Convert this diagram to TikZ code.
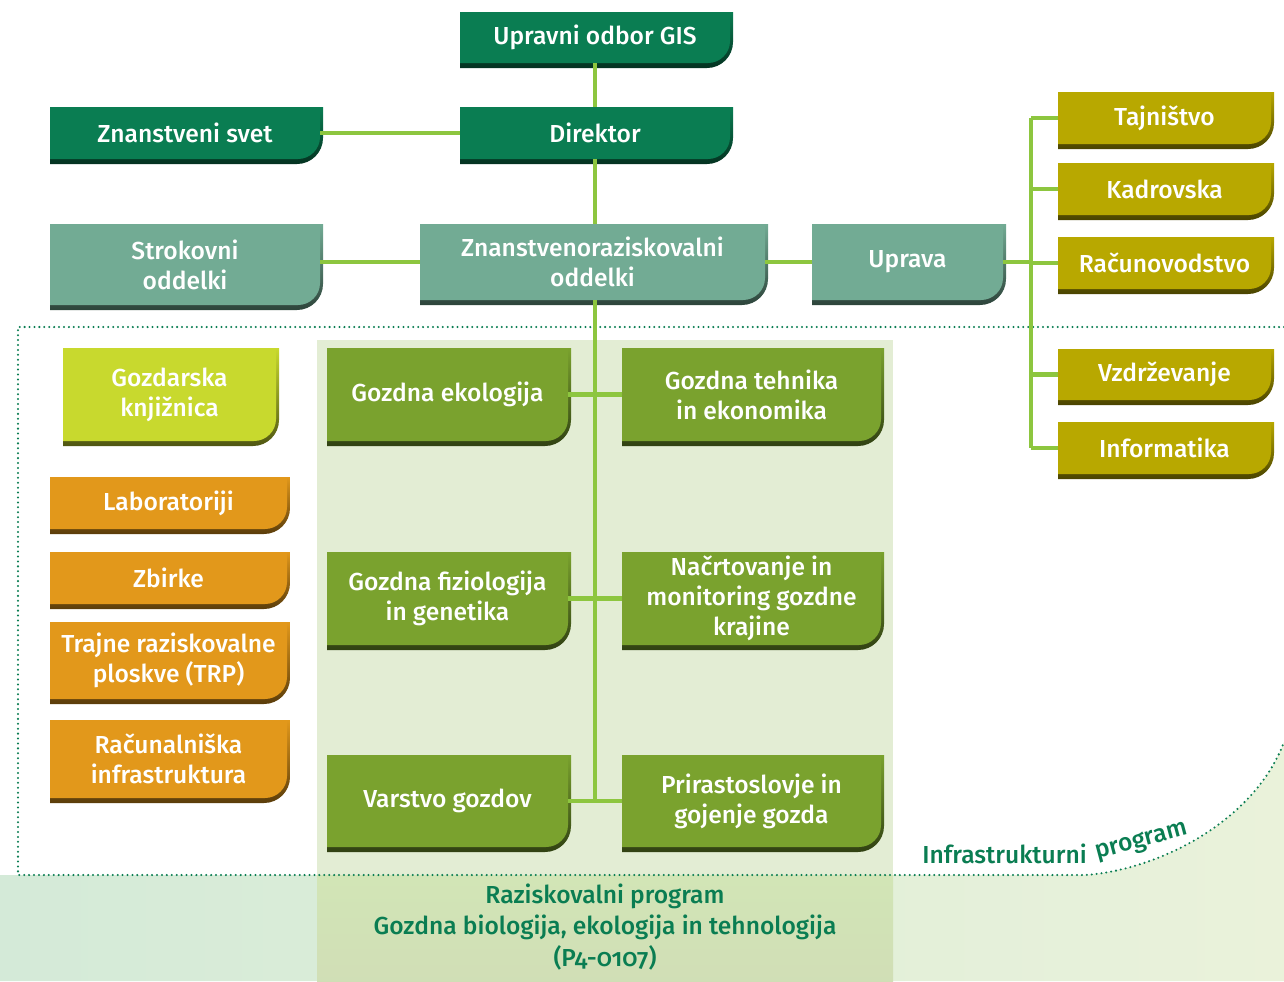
\documentclass[tikz,border=0pt]{standalone}
\usepackage{fontspec}
\setmainfont{Fira Sans}
\newfontfamily\boxfont{Fira Sans Medium}
\usetikzlibrary{positioning}

\definecolor{gisdark}{RGB}{10,125,82}
\definecolor{gisteal}{RGB}{114,171,148}
\definecolor{gisolive}{RGB}{184,168,0}
\definecolor{gisleaf}{RGB}{122,162,46}
\definecolor{gislime}{RGB}{200,217,46}
\definecolor{gisorange}{RGB}{226,152,27}
\definecolor{gisline}{RGB}{141,198,63}
\definecolor{gispanel}{RGB}{227,237,212}
\definecolor{gisbandl}{RGB}{212,234,216}
\definecolor{gisbandr}{RGB}{234,242,218}

\tikzset{
  orgtext/.style={inner sep=0pt, text=white, align=center,
    font=\boxfont\fontsize{14}{17}\selectfont},
  link/.style={gisline, line width=2.8pt},
  border/.style={gisdark, line width=1.3pt, line cap=round,
    dash pattern=on 0pt off 2.8pt},
  progtext/.style={text=gisdark, align=center, inner sep=0pt,
    font=\boxfont\fontsize{14}{17.9}\selectfont}
}

% box with rounded lower right corner: name, x1, y1, x2, y2, colour, text
\newcommand{\orgbox}[7]{
  \shade [top color=#6, bottom color=#6!40!black]
    (#2,#3) -- (#4,#3) -- (#4,#5-26) arc[start angle=0, end angle=90, radius=26]
    -- (#2,#5) -- cycle;
  \fill [#6]
    (#2,#3) -- (#4-3,#3) -- (#4-3,#5-27) arc[start angle=0, end angle=90, radius=22]
    -- (#2,#5-5) -- cycle;
  \node [orgtext, minimum width={(#4-#2-3)*0.02cm}, minimum height={(#5-#3-5)*0.02cm}]
    (#1) at ({(#2+#4-3)/2},{(#3+#5-5)/2}) {#7};
}

\begin{document}
\begin{tikzpicture}[x=0.02cm, y=-0.02cm]

\useasboundingbox (0,0) rectangle (1284,981);

% background
\shade [left color=gisbandl, right color=gisbandr]
  (0,875) -- (1085,875) .. controls (1160,870) and (1255,820) .. (1284,742)
  -- (1284,981) -- (0,981) -- cycle;
\fill [gispanel] (317,340) rectangle (893,875);
\shade [top color=gispanel!80!gisline, bottom color=gisleaf!35!white]
  (317,875) rectangle (893,981);

\draw [border] (1284,327) -- (18,327) -- (18,875) -- (1085,875)
  .. controls (1160,870) and (1255,820) .. (1284,742);

% management
\orgbox{gis}{460}{12}{733}{68}{gisdark}{Upravni odbor GIS}
\orgbox{dir}{460}{107}{733}{164}{gisdark}{Direktor}
\orgbox{zsv}{50}{107}{323}{164}{gisdark}{Znanstveni svet}
\orgbox{str}{50}{224}{323}{310}{gisteal}{Strokovni\\oddelki}
\orgbox{zro}{420}{224}{768}{305}{gisteal}{Znanstvenoraziskovalni\\oddelki}
\orgbox{upr}{812}{224}{1006}{305}{gisteal}{Uprava}

\orgbox{taj}{1058}{92}{1274}{149}{gisolive}{Tajništvo}
\orgbox{kad}{1058}{163}{1274}{220}{gisolive}{Kadrovska}
\orgbox{rac}{1058}{237}{1274}{294}{gisolive}{Računovodstvo}
\orgbox{vzd}{1058}{349}{1274}{405}{gisolive}{Vzdrževanje}
\orgbox{inf}{1058}{422}{1274}{479}{gisolive}{Informatika}

% infrastructure
\orgbox{knj}{63}{348}{279}{446}{gislime}{Gozdarska\\knjižnica}
\orgbox{lab}{50}{477}{290}{534}{gisorange}{Laboratoriji}
\orgbox{zbi}{50}{552}{290}{609}{gisorange}{Zbirke}
\orgbox{trp}{50}{622}{290}{704}{gisorange}{Trajne raziskovalne\\ploskve (TRP)}
\orgbox{rin}{50}{720}{290}{803}{gisorange}{Računalniška\\infrastruktura}

% research departments
\orgbox{eko}{327}{348}{571}{446}{gisleaf}{Gozdna ekologija}
\orgbox{teh}{622}{348}{884}{446}{gisleaf}{Gozdna tehnika\\in ekonomika}
\orgbox{fiz}{327}{552}{571}{650}{gisleaf}{Gozdna fiziologija\\in genetika}
\orgbox{nac}{622}{552}{884}{650}{gisleaf}{Načrtovanje in\\monitoring gozdne\\krajine}
\orgbox{var}{327}{755}{571}{852}{gisleaf}{Varstvo gozdov}
\orgbox{pri}{622}{755}{884}{852}{gisleaf}{Prirastoslovje in\\gojenje gozda}

% connectors
\draw [link] (gis.south) -- (dir.north);
\draw [link] (zsv.east) -- (dir.west);
\draw [link] (dir.south) -- (dir.south |- zro.north);
\draw [link] (zro.west) -- (zro.west -| str.east);
\draw [link] (zro.east) -- (upr.west);

\coordinate (bus) at (1031,0);
\draw [link] (upr.east) -- (upr.east -| bus);
\draw [link] (bus |- taj.west) -- (bus |- inf.west);
\foreach \n in {taj,kad,rac,vzd,inf}
  \draw [link] (bus |- \n.west) -- (\n.west);

\draw [link] (dir.south |- zro.south) -- (dir.south |- var.east);
\draw [link] (eko.east) -- (teh.west);
\draw [link] (fiz.east) -- (nac.west);
\draw [link] (var.east) -- (pri.west);

% programme labels
\node [progtext, anchor=base west] (infra) at (922,863) {Infrastrukturni};
\node [progtext, anchor=base west, rotate=15] (prog) at (1097,859) {program};

\node [progtext] (rp) at (605,927)
  {Raziskovalni program\\
   Gozdna biologija, ekologija in tehnologija\\
   {\addfontfeatures{Numbers=OldStyle}(P4-0107)}};

\end{tikzpicture}
\end{document}
